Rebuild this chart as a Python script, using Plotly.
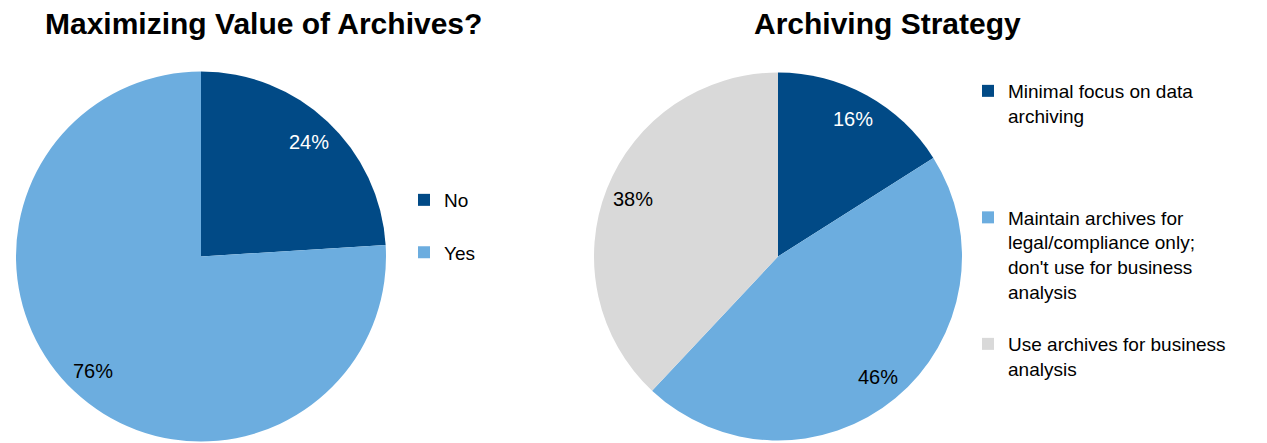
import math
import plotly.graph_objects as go

W, H = 1267, 443
FONT = "Liberation Sans, Arial, sans-serif"

# Left chart: "Maximizing Value of Archives?"
value_labels = ["No", "Yes"]
value_shares = [24, 76]
value_colors = ["#014A86", "#6CADDF"]

# Right chart: "Archiving Strategy"
strategy_labels = [
    "Minimal focus on data<br>archiving",
    "Maintain archives for<br>legal/compliance only;<br>don't use for business<br>analysis",
    "Use archives for business<br>analysis",
]
strategy_shares = [16, 46, 38]
strategy_colors = ["#014A86", "#6CADDF", "#D9D9D9"]

# blank lines appended to legend entries to space them out
value_pad = [1, 0]
strategy_pad = [3, 1, 0]

# pie geometry in pixels: centre x, centre y, radius
LEFT_PIE = (201, 256.5, 185)
RIGHT_PIE = (778, 256.5, 184)


def pie_domain(cx, cy, r):
    return dict(x=[(cx - r) / W, (cx + r) / W], y=[1 - (cy + r) / H, 1 - (cy - r) / H])


def padded(labels, pads):
    return [lab + "<br>\u00a0" * p for lab, p in zip(labels, pads)]


fig = go.Figure()

fig.add_trace(go.Pie(
    labels=padded(value_labels, value_pad), values=value_shares,
    marker=dict(colors=value_colors, line=dict(width=0)),
    sort=False, direction="clockwise", rotation=0,
    textinfo="none", domain=pie_domain(*LEFT_PIE), legend="legend",
))
fig.add_trace(go.Pie(
    labels=padded(strategy_labels, strategy_pad), values=strategy_shares,
    marker=dict(colors=strategy_colors, line=dict(width=0)),
    sort=False, direction="clockwise", rotation=0,
    textinfo="none", domain=pie_domain(*RIGHT_PIE), legend="legend2",
))


def slice_labels(geom, shares, colors, frac=0.85):
    cx, cy, r = geom
    total = sum(shares)
    start = 0.0
    notes = []
    for v, c in zip(shares, colors):
        mid = (start + v / 2) / total * 2 * math.pi
        start += v
        px = cx + frac * r * math.sin(mid)
        py = cy - frac * r * math.cos(mid)
        txt_color = "white" if c == "#014A86" else "black"
        notes.append(dict(
            x=px / W, y=1 - py / H, xref="paper", yref="paper",
            text=f"{v}%", showarrow=False,
            font=dict(family=FONT, size=20, color=txt_color),
            xanchor="center", yanchor="middle",
        ))
    return notes


annotations = []
annotations += slice_labels(LEFT_PIE, value_shares, value_colors)
annotations += slice_labels(RIGHT_PIE, strategy_shares, strategy_colors)
annotations.append(dict(
    x=263 / W, y=1 - 24 / H, xref="paper", yref="paper",
    text="<b>Maximizing Value of Archives?</b>", showarrow=False,
    font=dict(family=FONT, size=30, color="black"), xanchor="center", yanchor="middle",
))
annotations.append(dict(
    x=888 / W, y=1 - 24 / H, xref="paper", yref="paper",
    text="<b>Archiving Strategy</b>", showarrow=False,
    font=dict(family=FONT, size=30, color="black"), xanchor="center", yanchor="middle",
))

legend_style = dict(
    font=dict(family=FONT, size=19, color="black"),
    bgcolor="rgba(0,0,0,0)", valign="top", xanchor="left", yanchor="top",
    borderwidth=0, itemclick=False, itemdoubleclick=False,
)

fig.update_layout(
    width=W, height=H,
    margin=dict(l=0, r=0, t=0, b=0),
    paper_bgcolor="white", plot_bgcolor="white",
    annotations=annotations,
    legend=dict(x=404 / W, y=1 - 181 / H, **legend_style),
    legend2=dict(x=968 / W, y=1 - 72 / H, **legend_style),
    showlegend=True,
)

fig.write_html("out.html")
